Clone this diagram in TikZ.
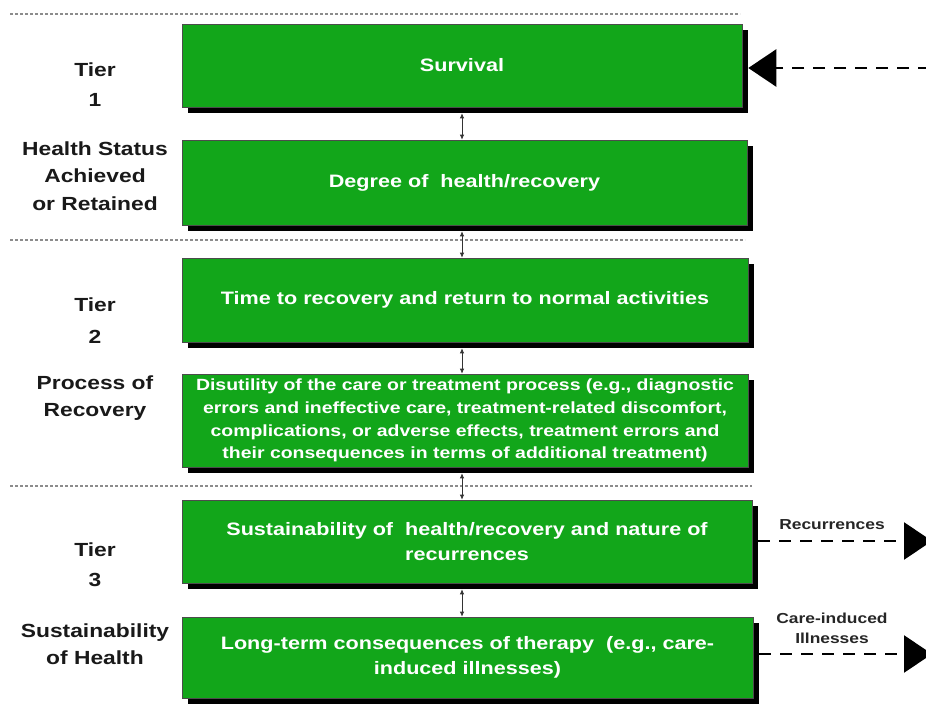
\documentclass[tikz,border=0pt]{standalone}
\usepackage{fontspec}
\setmainfont{Liberation Sans}[FakeStretch=1.2]
\usepackage{xcolor}
\usetikzlibrary{arrows.meta,shadows}
\definecolor{tiergreen}{RGB}{18,166,26}

\begin{document}
\begin{tikzpicture}[x=1pt,y=-1pt,>=Latex,
  outcome/.style={draw=black!70,line width=0.6pt,fill=tiergreen,text=white,
    font=\fontsize{18}{24.5}\selectfont\bfseries,align=center,inner sep=0pt,
    drop shadow={shadow xshift=6pt,shadow yshift=-6pt,fill=black,opacity=1}},
  tierlabel/.style={font=\fontsize{19}{27.5}\selectfont\bfseries,align=center,text=black!90},
  sidelabel/.style={font=\fontsize{14.5}{20}\selectfont\bfseries,align=center,text=black!85},
  divider/.style={draw=black!45,line width=1.2pt,dash pattern=on 3pt off 2pt},
  link/.style={{Latex[length=5pt,width=4.5pt]}-{Latex[length=5pt,width=4.5pt]},line width=0.7pt,draw=black!80},
  bigarrow/.style={line width=2.6pt,dash pattern=on 12pt off 9pt,
    -{Triangle[length=28pt,width=37pt]}}]
  \useasboundingbox (0,0) rectangle (926,709);
% tier dividers
  \draw[divider] (10,14) -- (740,14);
  \draw[divider] (10,240) -- (745,240);
  \draw[divider] (10,486) -- (752,486);
% outcome boxes
  \node[outcome,minimum width=560pt,minimum height=83pt] (survival) at (462,65.5) {Survival};
  \node[outcome,minimum width=565pt,minimum height=85pt] (degree) at (464.5,182.5) {Degree of \ health/recovery};
  \node[outcome,minimum width=566pt,minimum height=84pt] (time) at (465,300) {Time to recovery and return to normal activities};
  \node[outcome,minimum width=566pt,minimum height=93pt,font=\fontsize{16.2}{22.7}\selectfont\bfseries] (disutility) at (465,420.5)
    {Disutility of the care or treatment process (e.g., diagnostic\\ errors and ineffective care, treatment-related discomfort,\\ complications, or adverse effects, treatment errors and\\ their consequences in terms of additional treatment)};
  \node[outcome,minimum width=570pt,minimum height=83pt] (sustain) at (467,541.5) {Sustainability of \ health/recovery and nature of\\ recurrences};
  \node[outcome,minimum width=571pt,minimum height=81pt] (longterm) at (467.5,657.5) {Long-term consequences of therapy \ (e.g., care-\\ induced illnesses)};
% links between boxes
  \draw[link] ([yshift=-6pt]survival.south) -- (survival.south |- degree.north);
  \draw[link] ([yshift=-6pt]survival.south |- degree.south) -- (survival.south |- time.north);
  \draw[link] ([yshift=-6pt]survival.south |- time.south) -- (survival.south |- disutility.north);
  \draw[link] ([yshift=-6pt]survival.south |- disutility.south) -- (survival.south |- sustain.north);
  \draw[link] ([yshift=-6pt]survival.south |- sustain.south) -- (survival.south |- longterm.north);
% tier labels
  \node[tierlabel,font=\fontsize{19}{30}\selectfont\bfseries] (tierone) at (95,85) {Tier\\1};
  \node[tierlabel] (health) at (95,176) {Health Status\\Achieved\\or Retained};
  \node[tierlabel,font=\fontsize{19}{32}\selectfont\bfseries] (tiertwo) at (95,321) {Tier\\2};
  \node[tierlabel] (process) at (95,398) {Process of\\Recovery};
  \node[tierlabel,font=\fontsize{19}{30}\selectfont\bfseries] (tierthree) at (95,565) {Tier\\3};
  \node[tierlabel] (sustainhealth) at (95,644) {Sustainability\\of Health};
% outside arrows
  \coordinate (feedback) at (930,68);
  \coordinate (recur) at (932,541);
  \coordinate (careind) at (932,654);
  \draw[bigarrow] (feedback) -- ([xshift=6pt]survival.east |- feedback);
  \draw[bigarrow] ([xshift=6pt]sustain.east |- recur) -- (recur);
  \draw[bigarrow] ([xshift=6pt]longterm.east |- careind) -- (careind);
  \node[sidelabel] (recurlabel) at (832,525) {Recurrences};
  \node[sidelabel] (carelabel) at (832,628) {Care-induced\\Illnesses};
\end{tikzpicture}
\end{document}
